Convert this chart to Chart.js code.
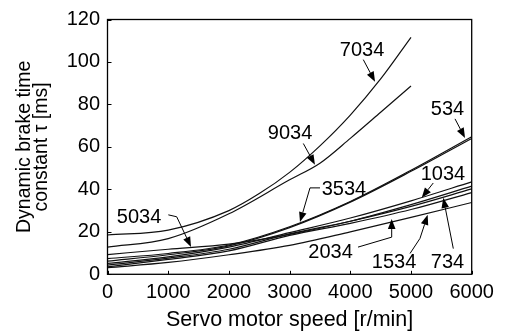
<!DOCTYPE html>
<html><head><meta charset="utf-8">
<script src="https://cdn.jsdelivr.net/npm/chart.js@4/dist/chart.umd.min.js"></script>
<style>html,body{margin:0;padding:0;background:#fff;}#wrap{width:509px;height:336px;}</style>
</head><body><div id="wrap"><canvas id="c" width="509" height="336"></canvas></div>
<script>
// ---- data ----
const speeds      = [0, 1000, 2000, 3000, 4000, 5000, 6000];
const speeds7034  = [0, 1000, 2000, 2500, 3000, 3500, 4000, 4500, 5000];
const speeds9034  = [0, 1000, 2000, 3000, 3500, 4000, 4500, 5000];
const tau534   = [7.4, 9.8, 13.8, 22.4, 34.3, 49.0, 64.8];
const tau3534  = [6.2, 9.2, 13.4, 22.0, 34.0, 48.5, 64.0];
const tau5034  = [9.3, 11.8, 14.2, 18.8, 25.0, 32.8, 41.5];
const tau1034  = [5.1, 8.2, 12.8, 19.6, 26.5, 34.6, 43.5];
const tau734   = [4.3, 7.6, 11.8, 19.0, 25.0, 32.0, 40.2];
const tau2034  = [3.5, 7.0, 11.0, 18.3, 24.0, 30.5, 38.5];
const tau1534  = [3.1, 5.6, 9.2, 13.6, 20.0, 26.8, 33.8];
const tau7034  = [18.5, 20.8, 30.0, 38.0, 48.0, 60.5, 75.0, 92.0, 111.6];
const tau9034  = [12.8, 16.8, 28.5, 44.5, 52.3, 64.0, 76.3, 88.7];
const xTickValues = [0, 1000, 2000, 3000, 4000, 5000, 6000];
const yTickValues = [0, 20, 40, 60, 80, 100, 120];

// label callouts (text centre and arrow path, in data units)
const callouts = [
  {text: '7034', at: [4193, 106.1], path: [[4214, 101.1], [4407, 90.7]]},
  {text: '9034', at: [3007, 66.6],  path: [[3226, 61.6], [3418, 51.6]]},
  {text: '534',  at: [5601, 78.2],  path: [[5725, 73.2], [5890, 64.2]]},
  {text: '3534', at: [3896, 40.6],  path: [[3501, 40.7], [3336, 40.7], [3171, 24.6]]},
  {text: '1034', at: [5527, 47.3],  path: [[5367, 43.0], [5176, 36.1]]},
  {text: '5034', at: [519, 27.3],   path: [[1002, 28.0], [1140, 27.1], [1376, 12.9]]},
  {text: '2034', at: [3674, 10.6],  path: [[4127, 12.8], [4682, 17.5], [4682, 26.0]]},
  {text: '1534', at: [4720, 6.2],   path: [[4984, 9.8], [5148, 16.9], [5275, 28.0]]},
  {text: '734',  at: [5601, 5.9],   path: [[5697, 12.1], [5532, 36.0]]}
];

const FONT = '"Liberation Sans", Arial, Helvetica, sans-serif';
Chart.defaults.font.family = FONT;
Chart.defaults.color = '#000';

function mk(name, xs, ys) {
  return {
    label: name,
    data: xs.map((x, i) => ({x: x, y: ys[i]})),
    borderColor: '#111',
    borderWidth: 1.2,
    pointRadius: 0,
    fill: false,
    cubicInterpolationMode: 'monotone'
  };
}

const datasets = [
  mk('534', speeds, tau534), mk('734', speeds, tau734), mk('1034', speeds, tau1034),
  mk('1534', speeds, tau1534), mk('2034', speeds, tau2034), mk('3534', speeds, tau3534),
  mk('5034', speeds, tau5034), mk('7034', speeds7034, tau7034), mk('9034', speeds9034, tau9034)
];

const decor = {
  id: 'decor',
  afterDraw(chart) {
    const ctx = chart.ctx, a = chart.chartArea, xs = chart.scales.x, ys = chart.scales.y;
    ctx.save();
    ctx.strokeStyle = '#000';
    ctx.lineWidth = 1.3;
    ctx.strokeRect(a.left, a.top, a.right - a.left, a.bottom - a.top);
    ctx.lineWidth = 1;
    ctx.beginPath();
    yTickValues.forEach(v => { const y = Math.round(ys.getPixelForValue(v)) + 0.5; ctx.moveTo(a.left, y); ctx.lineTo(a.left + 4, y); });
    xTickValues.forEach(v => { const x = Math.round(xs.getPixelForValue(v)) + 0.5; ctx.moveTo(x, a.bottom); ctx.lineTo(x, a.bottom - 3.5); });
    ctx.stroke();
    ctx.font = '20px ' + FONT;
    ctx.fillStyle = '#000';
    ctx.textAlign = 'center';
    ctx.textBaseline = 'middle';
    callouts.forEach(c => {
      ctx.fillText(c.text, xs.getPixelForValue(c.at[0]), ys.getPixelForValue(c.at[1]) + 1);
      const pts = c.path.map(p => [xs.getPixelForValue(p[0]), ys.getPixelForValue(p[1])]);
      const n = pts.length;
      const tip = pts[n - 1], prev = pts[n - 2];
      const ang = Math.atan2(tip[1] - prev[1], tip[0] - prev[0]);
      const L = 10, W = 3.8;
      const bx = tip[0] - L * Math.cos(ang), by = tip[1] - L * Math.sin(ang);
      ctx.lineWidth = 1;
      ctx.beginPath();
      ctx.moveTo(pts[0][0], pts[0][1]);
      for (let i = 1; i < n - 1; i++) ctx.lineTo(pts[i][0], pts[i][1]);
      ctx.lineTo(bx, by);
      ctx.stroke();
      ctx.beginPath();
      ctx.moveTo(tip[0], tip[1]);
      ctx.lineTo(bx + W * Math.sin(ang), by - W * Math.cos(ang));
      ctx.lineTo(bx - W * Math.sin(ang), by + W * Math.cos(ang));
      ctx.closePath();
      ctx.fill();
    });
    ctx.restore();
  }
};

new Chart(document.getElementById('c'), {
  type: 'line',
  data: {datasets: datasets},
  options: {
    responsive: false,
    animation: false,
    layout: {padding: {left: 0, top: 16, right: 37.3, bottom: 0}},
    plugins: {legend: {display: false}, tooltip: {enabled: false}},
    scales: {
      x: {
        type: 'linear', min: 0, max: 6000,
        grid: {display: false, drawTicks: false},
        border: {display: false},
        ticks: {stepSize: 1000, autoSkip: false, padding: 6, font: {size: 20}, color: '#000', callback: v => String(v)},
        title: {display: true, text: 'Servo motor speed [r/min]', font: {size: 21.5}, color: '#000', padding: {top: 0, bottom: 3}},
        afterFit(s) { s.height = 61.7; }
      },
      y: {
        type: 'linear', min: 0, max: 120,
        grid: {display: false, drawTicks: false},
        border: {display: false},
        ticks: {stepSize: 20, autoSkip: false, padding: 7.5, font: {size: 20}, color: '#000', callback: v => String(v)},
        title: {display: true, text: ['Dynamic brake time', 'constant \u03c4 [ms]'], font: {size: 19.5, lineHeight: '17px'}, color: '#000', padding: {top: 16.5, bottom: 0}},
        afterFit(s) { s.width = 107.5; }
      }
    }
  },
  plugins: [decor]
});
</script>
</body></html>
